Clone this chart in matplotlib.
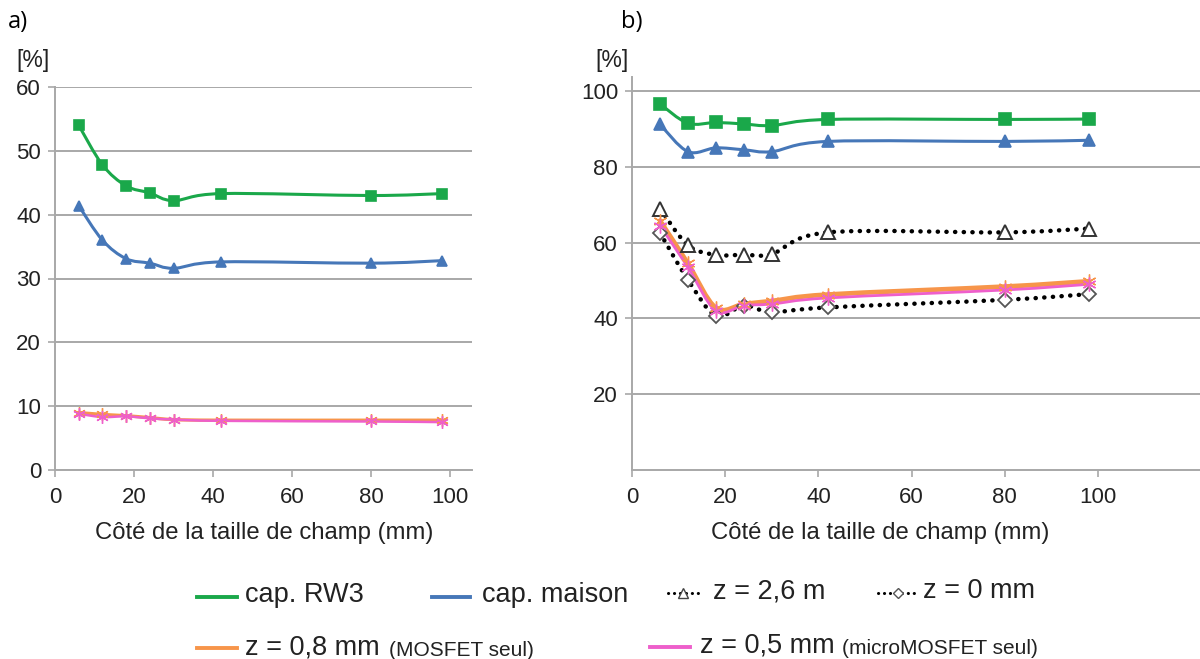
import matplotlib
matplotlib.use("Agg")
import matplotlib.pyplot as plt
from matplotlib.lines import Line2D
from matplotlib.patches import PathPatch
from matplotlib.path import Path

plt.rcParams['font.family'] = ['Liberation Sans', 'DejaVu Sans']

# field size side (mm)
x_mm = [6, 12, 18, 24, 30, 42, 80, 98]

# a) values [%]
a_rw3 = [54.0, 47.8, 44.5, 43.4, 42.2, 43.3, 43.0, 43.3]
a_maison = [41.4, 36.0, 33.1, 32.4, 31.6, 32.6, 32.4, 32.8]
a_mosfet = [9.0, 8.7, 8.5, 8.2, 7.9, 7.8, 7.8, 7.8]
a_micro = [8.8, 8.3, 8.4, 8.1, 7.9, 7.7, 7.6, 7.5]

# b) values [%]
b_rw3 = [96.6, 91.5, 91.7, 91.3, 90.9, 92.5, 92.5, 92.6]
b_maison = [91.2, 84.0, 85.0, 84.5, 84.0, 86.7, 86.7, 87.0]
b_z26 = [69.0, 59.3, 56.8, 56.8, 57.0, 62.7, 62.7, 63.7]
b_z0 = [62.6, 50.2, 40.7, 43.4, 41.7, 42.9, 44.9, 46.4]
b_mosfet = [65.8, 54.5, 42.8, 43.8, 44.6, 46.3, 48.4, 49.8]
b_micro = [64.5, 53.5, 42.0, 43.4, 43.8, 45.4, 47.5, 49.0]

GREEN = '#1aa84a'
BLUE = '#4677b8'
ORANGE = '#f7954a'
PINK = '#ee5fcb'
GRID = '#a8a8a8'
TXT = '#222222'
DOTS = (0, (0.05, 1.9))


def smooth_path(x, y):
    # Catmull-Rom style cubic Bezier through the points (like spreadsheet "smoothed lines")
    pts = list(zip(x, y))
    verts = [pts[0]]
    codes = [Path.MOVETO]
    n = len(pts)
    for i in range(n - 1):
        p0 = pts[i - 1] if i > 0 else pts[i]
        p1 = pts[i]
        p2 = pts[i + 1]
        p3 = pts[i + 2] if i + 2 < n else pts[i + 1]
        c1 = (p1[0] + (p2[0] - p0[0]) / 6, p1[1] + (p2[1] - p0[1]) / 6)
        c2 = (p2[0] - (p3[0] - p1[0]) / 6, p2[1] - (p3[1] - p1[1]) / 6)
        verts += [c1, c2, p2]
        codes += [Path.CURVE4] * 3
    return Path(verts, codes)


def series(ax, x, y, color, lw, ls='-', marker=None, ms=8, mfc=None, mec=None, mew=1.2, z=3):
    patch = PathPatch(smooth_path(x, y), fill=False, edgecolor=color, linewidth=lw,
                      linestyle=ls, capstyle='round', joinstyle='round', zorder=z)
    ax.add_patch(patch)
    if marker:
        ax.plot(x, y, linestyle='none', marker=marker, markersize=ms,
                markerfacecolor=mfc if mfc else color, markeredgecolor=mec if mec else color,
                markeredgewidth=mew, zorder=z + 0.5)


def style_axes(ax, yticks):
    ax.set_yticks(yticks)
    ax.grid(axis='y', color=GRID, linewidth=1.4)
    ax.set_axisbelow(True)
    for s in ['top', 'right']:
        ax.spines[s].set_visible(False)
    for s in ['left', 'bottom']:
        ax.spines[s].set_color(GRID)
        ax.spines[s].set_linewidth(1.4)
    ax.set_xticks([0, 20, 40, 60, 80, 100])
    ax.tick_params(axis='both', colors=GRID, labelcolor=TXT, labelsize=16,
                   length=5, width=1.2, direction='out')
    ax.tick_params(axis='y', pad=5)
    ax.tick_params(axis='x', pad=7)


W, H = 1200, 659
fig = plt.figure(figsize=(W / 100, H / 100), dpi=100)

# panel a
ax1 = fig.add_axes([55 / W, 1 - 470 / H, (472 - 55) / W, (470 - 87) / H])
ax1.set_xlim(0, 105.5)
ax1.set_ylim(0, 60)
style_axes(ax1, [0, 10, 20, 30, 40, 50, 60])
series(ax1, x_mm, a_rw3, GREEN, 2.2, marker='s', ms=7.5)
series(ax1, x_mm, a_maison, BLUE, 2.2, marker='^', ms=7.5)
series(ax1, x_mm, a_mosfet, ORANGE, 2.4, marker=(6, 2, 0), ms=9, mew=1.0)
series(ax1, x_mm, a_micro, PINK, 1.8, marker=(6, 2, 0), ms=9, mew=1.0)

# panel b
ax2 = fig.add_axes([632 / W, 1 - 470 / H, (W - 632) / W, (470 - 77) / H])
ax2.set_xlim(0, 121.9)
ax2.set_ylim(0, 103.7)
style_axes(ax2, [20, 40, 60, 80, 100])
series(ax2, x_mm, b_rw3, GREEN, 2.2, marker='s', ms=9)
series(ax2, x_mm, b_maison, BLUE, 2.2, marker='^', ms=9)
series(ax2, x_mm, b_z26, 'black', 3.2, ls=DOTS, marker='^', ms=10, mfc='white', mec='#333333', mew=1.4)
series(ax2, x_mm, b_z0, 'black', 3.2, ls=DOTS, marker='D', ms=7.5, mfc='white', mec='#555555', mew=1.3)
series(ax2, x_mm, b_mosfet, ORANGE, 3.4, marker=(6, 2, 0), ms=10, mew=1.0)
series(ax2, x_mm, b_micro, PINK, 2.0, marker=(6, 2, 0), ms=10, mew=1.0)

# axis titles, panel tags and unit labels
xlab = 'Côté de la taille de champ (mm)'
fig.text(264 / W, 1 - 533 / H, xlab, fontsize=17.2, ha='center', va='center', color=TXT)
fig.text(880 / W, 1 - 533 / H, xlab, fontsize=17.2, ha='center', va='center', color=TXT)
fig.text(8 / W, 1 - 22 / H, 'a)', fontsize=17, family='Open Sans', va='center', color='black')
fig.text(621 / W, 1 - 22 / H, 'b)', fontsize=17, family='Open Sans', va='center', color='black')
fig.text(16 / W, 1 - 61 / H, '[%]', fontsize=16.5, va='center', color=TXT)
fig.text(595 / W, 1 - 61 / H, '[%]', fontsize=16.5, va='center', color=TXT)


# legend below both panels
def legend_line(x0, x1, y, color, lw=2.8, ls='-', marker=None, mfc=None, mec=None, ms=6):
    yy = 1 - y / H
    xs = [x0 / W, (x0 + x1) / 2 / W, x1 / W]
    ln = Line2D(xs, [yy] * 3, transform=fig.transFigure, color=color, linewidth=lw,
                linestyle=ls, dash_capstyle='round', marker=marker, markevery=[1],
                markersize=ms, markerfacecolor=mfc, markeredgecolor=mec, markeredgewidth=1.0)
    fig.add_artist(ln)


def legend_text(x, y, s, size=19.5):
    fig.text(x / W, 1 - y / H, s, fontsize=size, va='center', color=TXT)


legend_line(197, 237, 597, GREEN)
legend_text(245, 595, 'cap. RW3')
legend_line(432, 470, 597, BLUE)
legend_text(482, 595, 'cap. maison')
legend_line(668, 698, 593, 'black', lw=2.2, ls=DOTS, marker='^', mfc='white', mec='#444444', ms=7)
legend_text(713, 591, 'z = 2,6 m')
legend_line(878, 917, 593, 'black', lw=2.2, ls=DOTS, marker='D', mfc='white', mec='#555555', ms=5)
legend_text(923, 591, 'z = 0 mm')

legend_line(197, 237, 648, ORANGE)
legend_text(245, 647, 'z = 0,8 mm')
legend_text(389, 650, '(MOSFET seul)', size=15)
legend_line(650, 690, 647, PINK)
legend_text(700, 646, 'z = 0,5 mm')
legend_text(842, 649, '(microMOSFET seul)', size=15)

fig.savefig('out.png', dpi=100)
